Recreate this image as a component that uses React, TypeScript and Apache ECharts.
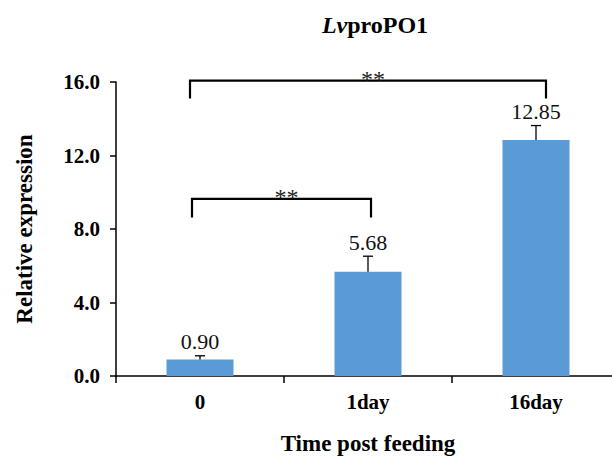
import React, { useEffect, useRef } from "react";
import * as echarts from "echarts";

const categories = ["0", "1day", "16day"];
const means = [0.9, 5.68, 12.85];
const errors = [0.2, 0.84, 0.78];
const yTicks = { min: 0, max: 16, interval: 4 };
// brackets: [fromIndex, toIndex, bracketLevel, dropLevel, label]
const brackets: [number, number, number, number, string][] = [
  [0, 2, 16.07, 15.1, "**"],
  [0, 1, 9.64, 8.62, "**"],
];
const bracketPads: [number, number][] = [
  [-10, 10],
  [-8, 3],
];

const SERIF = "'Liberation Serif', 'Times New Roman', serif";

export default function App() {
  const ref = useRef<HTMLDivElement>(null);
  useEffect(() => {
    if (!ref.current) return;
    const chart = echarts.init(ref.current, null, { renderer: "svg" });
    chart.setOption({
      animation: false,
      backgroundColor: "#fff",
      title: {
        text: "{i|Lv}{b|proPO1}",
        left: 370,
        top: 8,
        textAlign: "center",
        textStyle: {
          rich: {
            i: { fontFamily: SERIF, fontSize: 24, fontWeight: "bold", fontStyle: "italic", color: "#000" },
            b: { fontFamily: SERIF, fontSize: 24, fontWeight: "bold", color: "#000" },
          },
        },
      },
      grid: { left: 116, top: 82, width: 504, height: 294, outerBoundsMode: "none", containLabel: false },
      xAxis: {
        type: "category",
        data: categories,
        name: "Time post feeding",
        nameLocation: "middle",
        nameGap: 56,
        nameTextStyle: { fontFamily: SERIF, fontSize: 23, fontWeight: "bold", color: "#000" },
        axisLine: { lineStyle: { color: "#000", width: 1.5 } },
        axisTick: { show: true, length: 7, inside: false, lineStyle: { color: "#000", width: 1.5 } },
        axisLabel: { fontFamily: SERIF, fontSize: 21, fontWeight: "bold", color: "#000", margin: 15 },
      },
      yAxis: {
        type: "value",
        min: yTicks.min,
        max: yTicks.max,
        interval: yTicks.interval,
        name: "Relative expression",
        nameLocation: "middle",
        nameGap: 80,
        nameRotate: 90,
        nameTextStyle: { fontFamily: SERIF, fontSize: 23, fontWeight: "bold", color: "#000" },
        splitLine: { show: false },
        axisLine: { show: true, lineStyle: { color: "#000", width: 1.5 } },
        axisTick: { show: true, length: 6, lineStyle: { color: "#000", width: 1.5 } },
        axisLabel: {
          fontFamily: SERIF,
          fontSize: 21,
          fontWeight: "bold",
          color: "#000",
          margin: 16,
          formatter: (v: number) => v.toFixed(1),
        },
      },
      series: [
        {
          type: "bar",
          data: means,
          barWidth: 67,
          itemStyle: { color: "#5B9BD5" },
          z: 2,
        },
        {
          type: "custom",
          z: 3,
          data: means.map((m, i) => [i, m, errors[i]]),
          renderItem: (params: any, api: any) => {
            const i = api.value(0);
            const m = api.value(1);
            const e = api.value(2);
            const base = api.coord([i, m]);
            const top = api.coord([i, m + e]);
            const cap = 5;
            return {
              type: "group",
              children: [
                { type: "line", shape: { x1: base[0], y1: base[1], x2: top[0], y2: top[1] }, style: { stroke: "#000", lineWidth: 1.3 } },
                { type: "line", shape: { x1: top[0] - cap, y1: top[1], x2: top[0] + cap, y2: top[1] }, style: { stroke: "#000", lineWidth: 1.3 } },
                {
                  type: "text",
                  x: top[0],
                  y: top[1] - 3,
                  style: {
                    text: m.toFixed(2),
                    align: "center",
                    verticalAlign: "bottom",
                    fontFamily: SERIF,
                    fontSize: 22,
                    fill: "#111",
                  },
                },
              ],
            };
          },
        },
        {
          type: "custom",
          z: 4,
          data: brackets.map((b) => [b[0], b[1], b[2], b[3], b[4]]),
          renderItem: (params: any, api: any) => {
            const idx = params.dataIndex;
            const from = api.value(0);
            const to = api.value(1);
            const lvl = api.value(2);
            const drop = api.value(3);
            const label = brackets[idx][4];
            const pads = bracketPads[idx];
            const a = api.coord([from, lvl]);
            const b = api.coord([to, lvl]);
            const d = api.coord([from, drop]);
            const x1 = a[0] + pads[0];
            const x2 = b[0] + pads[1];
            const y = a[1];
            const yd = d[1];
            return {
              type: "group",
              children: [
                {
                  type: "polyline",
                  shape: { points: [[x1, yd], [x1, y], [x2, y], [x2, yd]] },
                  style: { stroke: "#000", lineWidth: 2.2, fill: "none" },
                },
                {
                  type: "text",
                  x: (x1 + x2) / 2 + 5,
                  y: y - 2,
                  style: {
                    text: label,
                    align: "center",
                    verticalAlign: "middle",
                    fontFamily: SERIF,
                    fontSize: 24,
                    fill: "#222",
                  },
                },
              ],
            };
          },
        },
      ],
    });
    return () => chart.dispose();
  }, []);
  return <div ref={ref} style={{ width: 612, height: 460, position: "absolute", left: 0, top: 0 }} />;
}
